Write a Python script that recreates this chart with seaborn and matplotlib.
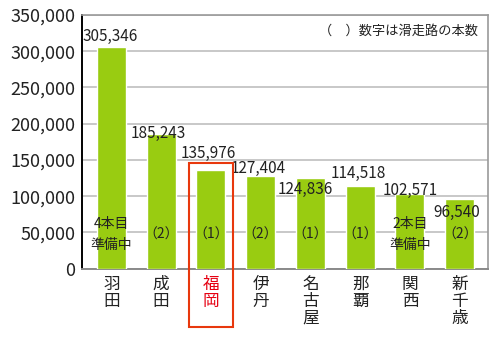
import matplotlib
matplotlib.use("Agg")
import matplotlib.pyplot as plt
import seaborn as sns
import pandas as pd
from matplotlib.patches import Rectangle

airports = ["羽田", "成田", "福岡", "伊丹", "名古屋", "那覇", "関西", "新千歳"]
flights = [305346, 185243, 135976, 127404, 124836, 114518, 102571, 96540]
value_labels = ["305,346", "185,243", "135,976", "127,404", "124,836", "114,518", "102,571", "96,540"]
runway_notes = ["4本目\n準備中", "（2）", "（1）", "（2）", "（1）", "（1）", "2本目\n準備中", "（2）"]
yticks = [0, 50000, 100000, 150000, 200000, 250000, 300000, 350000]
note_text = "（　）数字は滑走路の本数"
highlight = "福岡"

# label offsets in pixels (dx, dy) relative to bar top centre
label_offsets = [(-1, 11), (-3, 1), (-3, 17), (-2, 8), (-5, -11), (-2, 12), (0, 4), (-3, -14)]

sns.set_theme(style="white")
plt.rcParams["font.family"] = ["Noto Sans CJK JP", "DejaVu Sans"]

df = pd.DataFrame({"airport": airports, "flights": flights})

fig = plt.figure(figsize=(4.93, 3.39), dpi=100)
ax = fig.add_axes([0.1663, 0.2074, 0.8236, 0.7484])

sns.barplot(data=df, x="airport", y="flights", order=airports, color="#99cc11",
            saturation=1, width=0.58, ax=ax, zorder=3)

ax.set_xlim(-0.59, 7.57)
ax.set_ylim(0, 350000)
ax.set_yticks(yticks)
ax.set_yticklabels([f"{v:,}" for v in yticks], fontsize=13, color="#222222")
ax.yaxis.grid(True, color="#c8c8c8", linewidth=1.4, zorder=0)
ax.xaxis.grid(False)
ax.tick_params(axis="y", length=0, pad=5)
ax.tick_params(axis="x", length=0, pad=5)
ax.set_xlabel("")
ax.set_ylabel("")

ax.set_xticks(range(len(airports)))
ax.set_xticklabels(["\n".join(a) for a in airports], fontsize=12, linespacing=1.0,
                   color="#222222")
for lbl, name in zip(ax.get_xticklabels(), airports):
    if name == highlight:
        lbl.set_color("#e60012")

for s in ["top", "right"]:
    ax.spines[s].set_color("#9a9a9a")
    ax.spines[s].set_linewidth(1.2)
ax.spines["bottom"].set_color("#8a8a8a")
ax.spines["bottom"].set_linewidth(1.4)
ax.spines["left"].set_color("#000000")
ax.spines["left"].set_linewidth(1.4)

for i, (v, t, (dx, dy)) in enumerate(zip(flights, value_labels, label_offsets)):
    ax.annotate(t, (i, v), xytext=(dx, dy), textcoords="offset pixels",
                ha="center", va="center", fontsize=11, color="#222222", zorder=5)

for i, note in enumerate(runway_notes):
    ax.text(i, 47000, note, ha="center", va="center", fontsize=10,
            color="#222222", linespacing=1.7, zorder=5)

ax.text(0.975, 0.935, note_text, transform=ax.transAxes, ha="right", va="center",
        fontsize=9.5, color="#222222", zorder=5)

hi = airports.index(highlight)
rect = Rectangle((hi - 0.44, -80000), 0.88, 226000, fill=False, edgecolor="#e8380d",
                 linewidth=1.5, clip_on=False, zorder=6)
ax.add_patch(rect)

fig.savefig("out.png", dpi=100)
